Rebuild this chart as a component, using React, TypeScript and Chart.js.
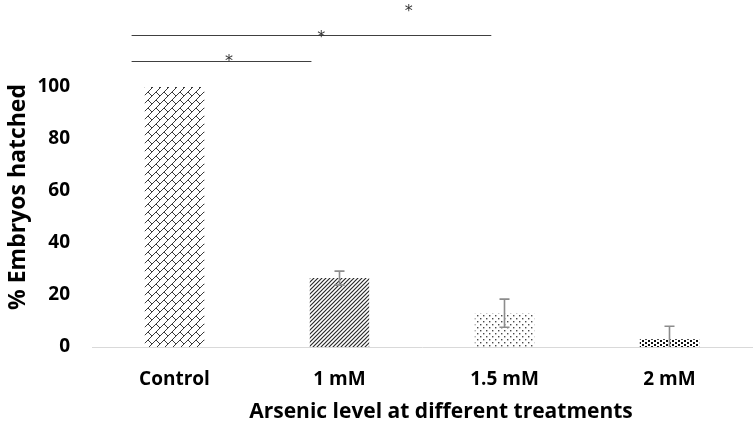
import React, { useEffect, useRef } from "react";
import { Chart, registerables } from "chart.js";

Chart.register(...registerables);

const categories = ["Control", "1 mM", "1.5 mM", "2 mM"];
const hatchedPct = [100, 26.5, 13, 3];
const errorPct = [0, 2.7, 5.4, 5];
const yTickMax = 100;
const yStep = 20;
const yAxisMax = 130;

// significance brackets (category index units, value units)
const sigFrom = [-0.26, -0.26];
const sigTo = [0.83, 1.92];
const sigLevel = [110, 120];
const starAt = [0.33, 0.89, 1.42];
const starLevel = [111.5, 120.8, 130.8];

const xTitle = "Arsenic level at different treatments";
const yTitle = "% Embryos hatched";

function makeTile(w: number, h: number, draw: (c: CanvasRenderingContext2D) => void) {
  const cv = document.createElement("canvas");
  cv.width = w;
  cv.height = h;
  const c = cv.getContext("2d")!;
  draw(c);
  return c.createPattern(cv, "repeat")!;
}

function brickPattern() {
  return makeTile(8, 8, (c) => {
    c.strokeStyle = "#3a3a3a";
    c.lineWidth = 1;
    c.beginPath();
    c.moveTo(-1, 9);
    c.lineTo(9, -1);
    c.moveTo(4, 4);
    c.lineTo(9, 9);
    c.stroke();
  });
}

function diagPattern() {
  return makeTile(4, 4, (c) => {
    c.strokeStyle = "#2a2a2a";
    c.lineWidth = 1.2;
    c.beginPath();
    c.moveTo(-1, 5);
    c.lineTo(5, -1);
    c.moveTo(-1, 1);
    c.lineTo(1, -1);
    c.moveTo(3, 5);
    c.lineTo(5, 3);
    c.stroke();
  });
}

function dotPattern() {
  return makeTile(6, 6, (c) => {
    c.fillStyle = "#4a4a4a";
    c.fillRect(0, 0, 1.4, 1.4);
    c.fillRect(3, 3, 1.4, 1.4);
  });
}

function darkDotPattern() {
  return makeTile(6, 4, (c) => {
    c.fillStyle = "#111";
    c.fillRect(0, 0, 2, 2);
    c.fillRect(3, 2, 2, 2);
  });
}

const annotPlugin = {
  id: "annot",
  afterDatasetsDraw(chart: any) {
    const ctx = chart.ctx as CanvasRenderingContext2D;
    const xs = chart.scales.x;
    const ys = chart.scales.y;
    const meta = chart.getDatasetMeta(0);
    ctx.save();
    // error bars
    ctx.strokeStyle = "#8c8c8c";
    ctx.lineWidth = 1.6;
    hatchedPct.forEach((v, i) => {
      const e = errorPct[i];
      if (!e) return;
      const x = meta.data[i].x;
      const yt = ys.getPixelForValue(v + e);
      const lo = v - e;
      const yb = ys.getPixelForValue(Math.max(lo, 0));
      ctx.beginPath();
      ctx.moveTo(x, yt);
      ctx.lineTo(x, yb);
      ctx.moveTo(x - 5, yt);
      ctx.lineTo(x + 5, yt);
      if (lo > 0) {
        ctx.moveTo(x - 5, yb);
        ctx.lineTo(x + 5, yb);
      }
      ctx.stroke();
    });
    // significance lines
    ctx.strokeStyle = "#404040";
    ctx.lineWidth = 1;
    sigLevel.forEach((lvl, i) => {
      const y = Math.round(ys.getPixelForValue(lvl)) + 0.5;
      ctx.beginPath();
      ctx.moveTo(xs.getPixelForValue(sigFrom[i]), y);
      ctx.lineTo(xs.getPixelForValue(sigTo[i]), y);
      ctx.stroke();
    });
    ctx.fillStyle = "#333";
    ctx.font = "16px 'DejaVu Sans'";
    ctx.textAlign = "center";
    ctx.textBaseline = "alphabetic";
    starAt.forEach((s, i) => {
      const x = xs.getPixelForValue(s);
      const y = ys.getPixelForValue(starLevel[i]);
      ctx.fillText("*", x, y + 9);
    });
    // axis titles
    ctx.fillStyle = "#000";
    ctx.font = "bold 21px 'Open Sans'";
    ctx.textBaseline = "middle";
    ctx.fillText(xTitle, 441, 412);
    ctx.font = "bold 23px 'Open Sans'";
    ctx.translate(18, 197);
    ctx.rotate(-Math.PI / 2);
    ctx.fillText(yTitle, 0, 0);
    ctx.restore();
  },
};

export default function App() {
  const ref = useRef<HTMLCanvasElement>(null);
  useEffect(() => {
    document.body.style.margin = "0";
    const chart = new Chart(ref.current!, {
      type: "bar",
      data: {
        labels: categories,
        datasets: [
          {
            data: hatchedPct,
            backgroundColor: [brickPattern(), diagPattern(), dotPattern(), darkDotPattern()],
            borderWidth: 0,
            barPercentage: 0.36,
            categoryPercentage: 1,
          },
        ],
      },
      options: {
        responsive: false,
        animation: false,
        devicePixelRatio: 1,
        layout: { padding: { top: 9, right: 2, left: 0, bottom: 0 } },
        plugins: { legend: { display: false }, tooltip: { enabled: false } },
        scales: {
          x: {
            grid: { display: false, drawTicks: false },
            border: { display: true, color: "#d9d9d9", width: 1 },
            ticks: {
              padding: 21,
              color: "#000",
              font: { family: "'Open Sans'", size: 19, weight: "bold" },
            },
            afterFit: (s: any) => {
              s.height = 85;
              s.paddingLeft = 0;
              s.paddingRight = 0;
            },
          },
          y: {
            min: 0,
            max: yAxisMax,
            grid: { display: false, drawTicks: false },
            border: { display: false },
            ticks: {
              stepSize: yStep,
              padding: 22,
              color: "#000",
              font: { family: "'Open Sans'", size: 19, weight: "bold" },
              callback: (v: any) => (Number(v) <= yTickMax ? String(v) : ""),
            },
            afterFit: (s: any) => {
              s.width = 92;
              s.paddingTop = 0;
              s.paddingBottom = 0;
            },
          },
        },
      },
      plugins: [annotPlugin],
    });
    return () => chart.destroy();
  }, []);
  return (
    <div style={{ position: "fixed", left: 0, top: 0, width: 754, height: 432, background: "#fff" }}>
      <canvas ref={ref} width={754} height={432} />
    </div>
  );
}
